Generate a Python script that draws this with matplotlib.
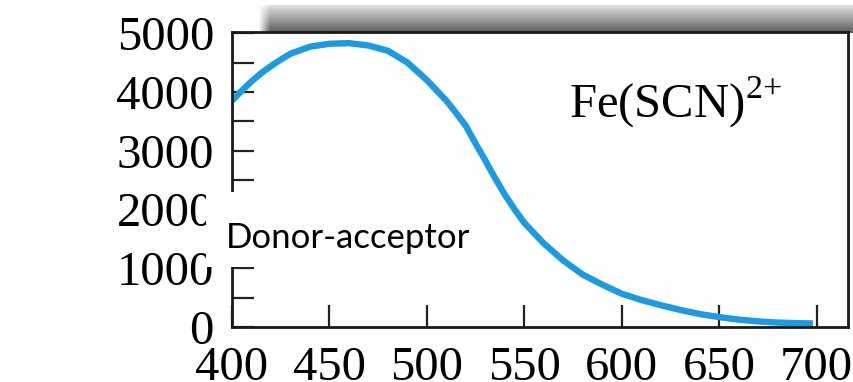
import numpy as np
import matplotlib
matplotlib.use('Agg')
import matplotlib.pyplot as plt

# absorption spectrum of Fe(SCN)2+
wavelength = [400, 405, 410, 415, 420, 425, 430, 440, 450, 460, 470, 480, 490, 500,
              510, 515, 520, 525, 530, 535, 540, 545, 550, 560, 570, 580, 590, 600,
              610, 620, 630, 640, 650, 660, 670, 680, 690, 698]
absorb = [3850, 4020, 4180, 4320, 4440, 4550, 4650, 4770, 4820, 4830, 4790, 4700, 4500, 4200,
          3850, 3640, 3420, 3120, 2830, 2530, 2250, 2000, 1770, 1420, 1130, 890, 720, 565,
          460, 370, 290, 220, 168, 125, 95, 75, 65, 60]

xticks = [400, 450, 500, 550, 600, 650, 700]
yticks = [0, 1000, 2000, 3000, 4000, 5000]

plt.rcParams['font.family'] = ['Liberation Serif', 'DejaVu Serif']
plt.rcParams['mathtext.fontset'] = 'custom'
plt.rcParams['mathtext.rm'] = 'Liberation Serif'

fig = plt.figure(figsize=(8.54, 3.82), dpi=100)

# grey shaded strip above the plot
strip = fig.add_axes([257/854, 1-33/382, 1-257/854, 28/382])
grad = np.linspace(0.88, 0.36, 50)[:, None] * np.ones((1, 200))
fade = np.clip(np.linspace(0, 50, 200), 0, 1)[None, :]
img = 1 - (1 - grad) * fade
strip.imshow(img, cmap='gray', vmin=0, vmax=1, aspect='auto')
strip.axis('off')

ax = fig.add_axes([232/854, 1-327/382, 616/854, 295/382])
ax.plot(wavelength, absorb, color='#1d9be2', lw=4.6, solid_capstyle='butt')
ax.set_xlim(400, 716)
ax.set_ylim(0, 5020)
ax.set_xticks(xticks)
ax.set_yticks(yticks)
ax.set_yticks([500, 1500, 2500, 3500, 4500], minor=True)
ax.tick_params(direction='in', length=16, width=1.6, labelsize=35, pad=13, color='#222222')
ax.tick_params(which='minor', direction='in', length=16, width=1.6, color='#222222')
ax.tick_params(axis='x', pad=14)
for s in ax.spines.values():
    s.set_linewidth(2)
    s.set_color('#1a1a1a')

ax.text(573, 3555, r'Fe(SCN)$^{2{+}}$', fontsize=35, va='baseline', ha='left')

# white label box covering the lower left part of the axis
box = fig.add_axes([206/854, 1-267/382, 277/854, 75/382])
box.set_facecolor('white')
box.set_xticks([])
box.set_yticks([])
for s in box.spines.values():
    s.set_visible(False)
box.text(20/277, 19/75, 'Donor-acceptor', fontsize=25, family='Lato',
         va='baseline', ha='left', transform=box.transAxes)

fig.savefig('out.png', dpi=100)
